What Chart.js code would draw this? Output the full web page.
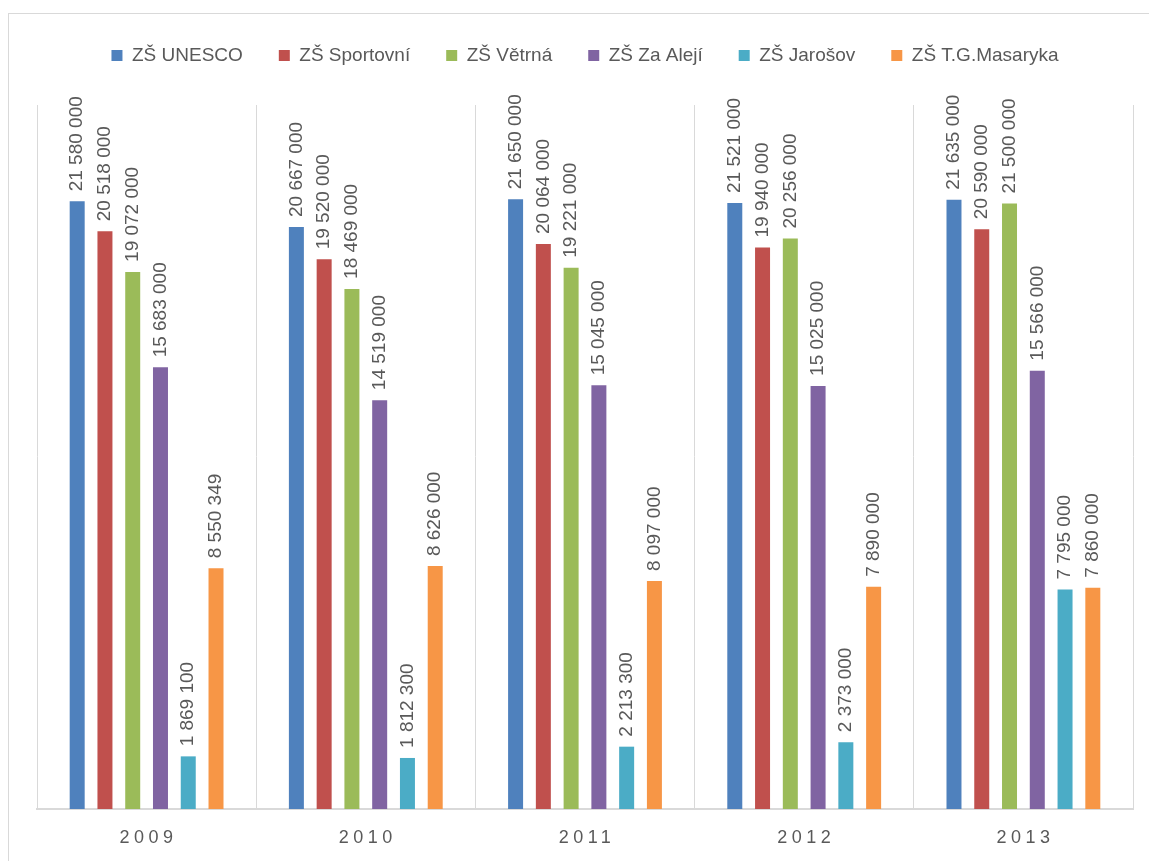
<!DOCTYPE html>
<html>
<head>
<meta charset="utf-8">
<script src="https://cdn.jsdelivr.net/npm/chart.js@4"></script>
<style>
    body { margin: 0; background: #fff; overflow: hidden; }
    #frame { position: absolute; left: 8px; top: 13px; width: 1200px; height: 900px; border: 1px solid #d9d9d9; }
    #wrap { position: absolute; left: 0; top: 0; width: 1149px; height: 861px; }
</style>
</head>
<body>
<div id="frame"></div>
<div id="wrap"><canvas id="chart"></canvas></div>
<script>
const years = ['2009', '2010', '2011', '2012', '2013'];
const unesco = [21580000, 20667000, 21650000, 21521000, 21635000];
const sportovni = [20518000, 19520000, 20064000, 19940000, 20590000];
const vetrna = [19072000, 18469000, 19221000, 20256000, 21500000];
const zaAleji = [15683000, 14519000, 15045000, 15025000, 15566000];
const jarosov = [1869100, 1812300, 2213300, 2373000, 7795000];
const masaryka = [8550349, 8626000, 8097000, 7890000, 7860000];

const TEXT = '#595959';
const FONT = "'Liberation Sans', Arial, sans-serif";

const fmt = v => String(v).replace(/\B(?=(\d{3})+(?!\d))/g, ' ');

// leave a gap between the legend and the plot
const legendGap = {
    id: 'legendGap',
    beforeInit(chart) {
        const fit = chart.legend.fit;
        chart.legend.fit = function () {
            fit.call(this);
            this.height += 30;
        };
    }
};

// values written vertically above each bar
const barLabels = {
    id: 'barLabels',
    afterDatasetsDraw(chart) {
        const ctx = chart.ctx;
        ctx.save();
        ctx.fillStyle = TEXT;
        ctx.font = '19px ' + FONT;
        ctx.textAlign = 'left';
        ctx.textBaseline = 'middle';
        chart.data.datasets.forEach((ds, i) => {
            chart.getDatasetMeta(i).data.forEach((bar, j) => {
                ctx.save();
                ctx.translate(bar.x, bar.y - 10);
                ctx.rotate(-Math.PI / 2);
                ctx.fillText(fmt(ds.data[j]), 0, 0);
                ctx.restore();
            });
        });
        ctx.restore();
    }
};

// spaced-out year labels under the axis
const yearLabels = {
    id: 'yearLabels',
    afterDraw(chart) {
        const ctx = chart.ctx;
        const xs = chart.scales.x;
        ctx.save();
        ctx.fillStyle = TEXT;
        ctx.font = '18px ' + FONT;
        ctx.letterSpacing = '4.5px';
        ctx.textAlign = 'center';
        ctx.textBaseline = 'middle';
        years.forEach((y, i) => {
            ctx.fillText(y, xs.getPixelForValue(i) + 2, chart.chartArea.bottom + 29);
        });
        ctx.restore();
    }
};

new Chart(document.getElementById('chart'), {
    type: 'bar',
    data: {
        labels: years,
        datasets: [
            { label: 'ZŠ UNESCO', data: unesco, backgroundColor: '#4F81BD' },
            { label: 'ZŠ Sportovní', data: sportovni, backgroundColor: '#C0504D' },
            { label: 'ZŠ Větrná', data: vetrna, backgroundColor: '#9BBB59' },
            { label: 'ZŠ Za Alejí', data: zaAleji, backgroundColor: '#8064A2' },
            { label: 'ZŠ Jarošov', data: jarosov, backgroundColor: '#4BACC6' },
            { label: 'ZŠ T.G.Masaryka', data: masaryka, backgroundColor: '#F79646' }
        ]
    },
    options: {
        responsive: true,
        maintainAspectRatio: false,
        animation: false,
        layout: { padding: { left: 37, right: 16, top: 10, bottom: 52 } },
        datasets: { bar: { categoryPercentage: 0.76, barPercentage: 0.54 } },
        plugins: {
            legend: {
                position: 'top',
                labels: {
                    color: TEXT,
                    font: { family: FONT, size: 19 },
                    boxWidth: 11,
                    boxHeight: 11,
                    padding: 36
                }
            },
            tooltip: { enabled: false }
        },
        scales: {
            x: {
                grid: { color: '#d9d9d9', lineWidth: 1, drawTicks: false, offset: true },
                border: { color: '#d9d9d9', width: 2 },
                ticks: { display: false }
            },
            y: {
                display: false,
                min: 0,
                max: 25000000
            }
        }
    },
    plugins: [legendGap, barLabels, yearLabels]
});
</script>
</body>
</html>
